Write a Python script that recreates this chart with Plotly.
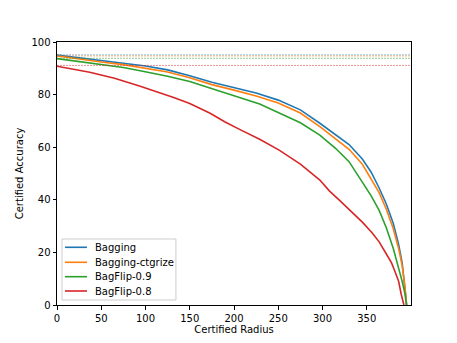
import plotly.graph_objects as go

names = ["Bagging", "Bagging-ctgrize", "BagFlip-0.9", "BagFlip-0.8"]
colors = ["#1f77b4", "#ff7f0e", "#2ca02c", "#d62728"]

bag_x = [0, 25, 50, 75, 100, 125, 150, 175, 200, 225, 250, 275, 297, 315, 330, 345, 355, 364, 372, 380, 386, 390, 393, 394.5, 395]
bag_y = [95.0, 94.0, 93.0, 92.1, 90.9, 89.4, 87.2, 84.7, 82.7, 80.6, 77.9, 74.2, 69.1, 64.8, 61.0, 55.5, 50.5, 44.5, 38.5, 31.0, 23.0, 16.0, 8.0, 2.0, 0.0]

ctg_x = [0, 25, 50, 75, 100, 125, 150, 175, 200, 225, 250, 275, 297, 315, 330, 345, 355, 364, 372, 380, 386, 390, 393, 394.5, 395]
ctg_y = [94.7, 93.5, 92.4, 91.4, 90.1, 88.6, 86.4, 83.8, 81.7, 79.5, 76.8, 73.0, 67.8, 63.3, 59.2, 53.5, 48.0, 42.7, 36.5, 29.0, 21.5, 15.0, 7.5, 2.0, 0.0]

bf9_x = [0, 25, 50, 75, 94, 125, 150, 173, 200, 229, 251, 275, 297, 315, 330, 344, 355, 364, 372, 380, 386, 390, 393, 394.5, 395]
bf9_y = [93.7, 92.6, 91.4, 90.3, 89.1, 87.0, 85.0, 82.4, 79.6, 76.4, 72.9, 69.3, 64.6, 59.5, 54.5, 47.5, 41.5, 36.0, 29.5, 21.5, 14.5, 9.0, 4.5, 1.5, 0.0]

bf8_x = [0, 20, 37, 65, 94, 131, 150, 173, 190, 208, 229, 251, 275, 297, 308, 319, 330, 345, 356, 364, 372, 378, 381, 386, 389, 391, 392]
bf8_y = [90.8, 89.6, 88.5, 86.2, 83.2, 79.0, 76.6, 72.9, 69.6, 66.5, 63.0, 58.9, 53.6, 47.5, 43.3, 39.9, 36.3, 31.5, 27.5, 24.0, 19.5, 16.0, 13.5, 9.0, 4.0, 1.0, 0.0]

baselines = [95.1, 94.7, 93.8, 91.1]

xs = [bag_x, ctg_x, bf9_x, bf8_x]
ys = [bag_y, ctg_y, bf9_y, bf8_y]

fig = go.Figure()
for b, c in zip(baselines, colors):
    fig.add_hline(y=b, line=dict(color=c, width=1, dash="2px,1px"), opacity=0.5)
for n, c, x, y in zip(names, colors, xs, ys):
    fig.add_trace(go.Scatter(x=x, y=y, mode="lines", name=n,
                             line=dict(color=c, width=1.6), showlegend=False))

# compact matplotlib-style legend (box, line samples, labels)
fig.add_shape(type="rect", xref="paper", yref="paper", x0=0.0141, x1=0.336, y0=0.019, y1=0.251,
              line=dict(color="#cccccc", width=1), fillcolor="rgba(255,255,255,0.8)", layer="above")
row_y = [0.2194, 0.1624, 0.1076, 0.0532]
for n, c, ry in zip(names, colors, row_y):
    fig.add_shape(type="line", xref="paper", yref="paper", x0=0.0226, x1=0.0847, y0=ry, y1=ry,
                  line=dict(color=c, width=1.6), layer="above")
    fig.add_annotation(xref="paper", yref="paper", x=0.1017, y=ry, text=n, showarrow=False,
                       xanchor="left", yanchor="middle", font=dict(size=10, color="black"))

axis_common = dict(showline=True, linecolor="black", linewidth=1, mirror=True,
                   ticks="outside", ticklen=3.5, tickcolor="black", tickwidth=0.8,
                   showgrid=False, zeroline=False, automargin=False,
                   tickfont=dict(family="DejaVu Sans", size=10, color="black"))

fig.update_layout(
    width=449, height=335,
    margin=dict(l=49, r=46, t=34, b=38, autoexpand=False),
    paper_bgcolor="white", plot_bgcolor="white",
    font=dict(family="DejaVu Sans", size=10, color="black"),
    xaxis=dict(range=[0, 400], tickvals=[0, 50, 100, 150, 200, 250, 300, 350],
               title=dict(text="Certified Radius", font=dict(size=10), standoff=2), **axis_common),
    yaxis=dict(range=[0, 100], tickvals=[0, 20, 40, 60, 80, 100],
               title=dict(text="Certified Accuracy", font=dict(size=10), standoff=5), **axis_common),
    showlegend=False,
)

fig.write_html("out.html")
